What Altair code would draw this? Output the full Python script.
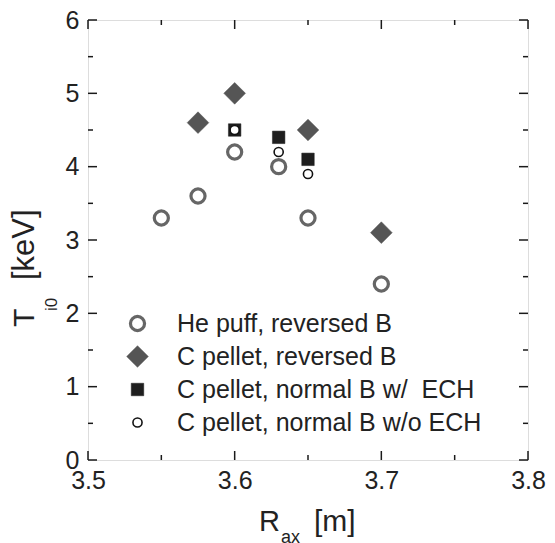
import altair as alt
import pandas as pd

# ---- data ----
series_names = ["He puff, reversed B", "C pellet, reversed B",
                "C pellet, normal B w/\u00a0 ECH", "C pellet, normal B w/o ECH"]
he_r = [3.55, 3.575, 3.6, 3.63, 3.65, 3.7]
he_t = [3.3, 3.6, 4.2, 4.0, 3.3, 2.4]
crev_r = [3.575, 3.6, 3.65, 3.7]
crev_t = [4.6, 5.0, 4.5, 3.1]
cech_r = [3.6, 3.63, 3.65]
cech_t = [4.5, 4.4, 4.1]
cno_r = [3.6, 3.63, 3.65]
cno_t = [4.5, 4.2, 3.9]

x_major = [3.5, 3.6, 3.7, 3.8]
x_minor = [3.55, 3.65, 3.75]
y_major = [0, 1, 2, 3, 4, 5, 6]
y_minor = [0.5, 1.5, 2.5, 3.5, 4.5, 5.5]

FONT = "Liberation Sans"
INK = "#1a1a1a"
W = H = 440

rows = []
for name, rs, ts in zip(series_names, [he_r, crev_r, cech_r, cno_r], [he_t, crev_t, cech_t, cno_t]):
    for r, t in zip(rs, ts):
        rows.append({"series": name, "R": r, "T": t})
df = pd.DataFrame(rows)

xs = alt.Scale(domain=[3.5, 3.8], nice=False, zero=False)
ys = alt.Scale(domain=[0, 6], nice=False, zero=False)

leg = alt.Legend(title=None, orient="none", legendX=37, legendY=291,
                 labelFontSize=25, labelFont=FONT, labelColor="#222222",
                 labelLimit=500, labelOffset=27, rowPadding=7, padding=0,
                 symbolType="circle")

dom = series_names
points = alt.Chart(df).mark_point(opacity=1, filled=False).encode(
    x=alt.X("R:Q", scale=xs,
            axis=alt.Axis(values=x_major, format=".1f", ticks=False, tickSize=0, domain=False,
                          grid=False, labelFontSize=25, labelFont=FONT, labelColor="#222222",
                          labelPadding=8, labelFlush=False, labelOverlap=False, title=None)),
    y=alt.Y("T:Q", scale=ys,
            axis=alt.Axis(values=y_major, format="d", ticks=False, tickSize=0, domain=False,
                          grid=False, labelFontSize=25, labelFont=FONT, labelColor="#222222",
                          labelPadding=9, labelOverlap=False, title=None)),
    shape=alt.Shape("series:N", scale=alt.Scale(domain=dom, range=["circle", "diamond", "square", "circle"]), legend=leg),
    fill=alt.Fill("series:N", scale=alt.Scale(domain=dom, range=["white", "#555555", "#1e1e1e", "white"]), legend=leg),
    stroke=alt.Stroke("series:N", scale=alt.Scale(domain=dom, range=["#666666", "#555555", "#1e1e1e", "#111111"]), legend=leg),
    strokeWidth=alt.StrokeWidth("series:N", scale=alt.Scale(type="ordinal", domain=dom, range=[3.2, 0.5, 0.5, 1.6]), legend=leg),
    size=alt.Size("series:N", scale=alt.Scale(type="ordinal", domain=dom, range=[199, 470, 156, 83]), legend=leg),
    order=alt.Order("idx:Q"),
).transform_window(idx="row_number()")

def rules(vals, **enc):
    return alt.Chart(pd.DataFrame({"v": vals})).mark_rule(color=INK, strokeWidth=1.5).encode(**enc)

ticks = [
    rules(x_major, x=alt.X("v:Q", scale=xs), y=alt.value(H), y2=alt.value(H - 9)),
    rules(x_major, x=alt.X("v:Q", scale=xs), y=alt.value(0), y2=alt.value(9)),
    rules(x_minor, x=alt.X("v:Q", scale=xs), y=alt.value(H), y2=alt.value(H - 5)),
    rules(x_minor, x=alt.X("v:Q", scale=xs), y=alt.value(0), y2=alt.value(5)),
    rules(y_major, y=alt.Y("v:Q", scale=ys), x=alt.value(0), x2=alt.value(9)),
    rules(y_major, y=alt.Y("v:Q", scale=ys), x=alt.value(W), x2=alt.value(W - 9)),
    rules(y_minor, y=alt.Y("v:Q", scale=ys), x=alt.value(0), x2=alt.value(5)),
    rules(y_minor, y=alt.Y("v:Q", scale=ys), x=alt.value(W), x2=alt.value(W - 5)),
]

def txt(s, x, y, size, angle=0):
    return alt.Chart(pd.DataFrame({"s": [s]})).mark_text(
        font=FONT, fontSize=size, color="#222222", align="left", baseline="alphabetic", angle=angle
    ).encode(text="s:N", x=alt.value(x), y=alt.value(y))

titles = [
    txt("R", 171, 511, 29),
    txt("ax", 193, 523, 18),
    txt("[m]", 226, 511, 30),
    txt("T", -54, 307, 30, 270),
    txt("i0", -31, 291, 17, 270),
    txt("[keV]", -54, 260, 31, 270),
]

chart = alt.layer(*ticks, points, *titles).properties(
    width=W, height=H,
    autosize=alt.AutoSizeParams(type="none"),
    padding={"left": 80, "top": 12, "right": 19, "bottom": 83},
).configure_view(stroke=INK, strokeWidth=1.5).configure(background="white")

chart.save("out.html", embed_options={"renderer": "svg", "actions": False})
